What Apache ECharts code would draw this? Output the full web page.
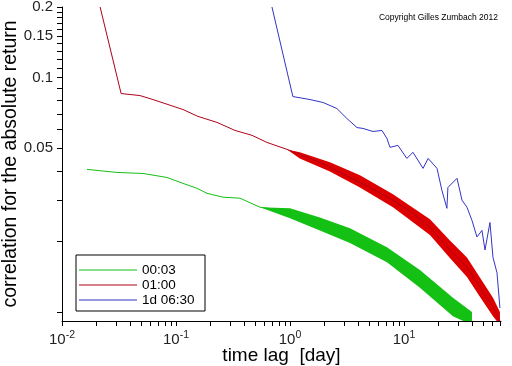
<!DOCTYPE html>
<html><head><meta charset="utf-8">
<script src="https://cdn.jsdelivr.net/npm/echarts@6/dist/echarts.min.js"></script>
<style>html,body{margin:0;padding:0;background:#fff}#c{width:512px;height:366px}</style>
</head><body><div id="c"></div>
<script>
// ---- data ----
const seriesNames = ['00:03', '01:00', '1d 06:30'];

const greenX = [0.01656,0.0303,0.0514,0.0834,0.115,0.153,0.187,0.258,0.364,0.545,0.769,1.0,1.59,2.11,3.16,4.73,7.09,9.80,13.8,19.5,26.9,35.7,39.5];
const greenY = [0.0406,0.0394,0.0390,0.0375,0.0354,0.0337,0.0321,0.0309,0.0306,0.0280,0.0274,0.0264,0.0239,0.0230,0.0209,0.0189,0.0175,0.0155,0.0137,0.0120,0.0105,0.00942,0.00916];

const redX = [0.0216,0.033,0.0483,0.0628,0.115,0.156,0.229,0.330,0.465,0.628,0.942,1.83,3.36,5.03,8.01,12.0,16.9,25.3,35.7,46.5,60.4,69.5];
const redY = [0.2,0.0855,0.0838,0.0806,0.0731,0.0683,0.0644,0.0595,0.0567,0.0529,0.0494,0.0435,0.0375,0.0340,0.0300,0.0264,0.0230,0.0184,0.0155,0.0128,0.0105,0.00916];

const blueX = [0.695,1.06,1.50,1.95,2.58,3.16,3.87,4.37,5.35,6.41,7.09,7.54,8.85,10.6,12.0,14.7,16.3,19.5,21.5,23.8,24.3,29.2,32.3,35.7,39.5,43.7,48.3,51.4,56.8,60.4,65.5,69.5];
const blueY = [0.2,0.0830,0.0806,0.0783,0.0738,0.0669,0.0612,0.0607,0.0589,0.0595,0.0550,0.0504,0.0514,0.0452,0.0480,0.0410,0.0452,0.0410,0.0331,0.0277,0.0340,0.0372,0.0300,0.0280,0.0246,0.0209,0.0223,0.0184,0.0241,0.0171,0.0147,0.0104];

// noise envelopes (upper / lower edge of the jagged band)
const redBandX  = [0.942,1.22,2.24,4.11,8.01,16.9,25.3,35.7,46.5,60.4,69.5];
const redBandHi = [0.0494,0.0480,0.0435,0.0383,0.0318,0.0249,0.0202,0.0171,0.0140,0.0115,0.0100];
const redBandLo = [0.0494,0.0452,0.0398,0.0340,0.0280,0.0213,0.0170,0.0141,0.0116,0.0096,0.0088];

const greenBandX  = [0.545,1.0,1.83,3.36,7.09,13.8,26.9,39.5];
const greenBandHi = [0.0280,0.0277,0.0253,0.0228,0.0189,0.0151,0.0115,0.0100];
const greenBandLo = [0.0280,0.0251,0.0223,0.0197,0.0163,0.0127,0.0096,0.0088];

const xMin = 0.01, xMax = 71, yMin = 0.00916, yMax = 0.2;
const xLabelValues = [0.01, 0.1, 1, 10];
const yLabelValues = [0.05, 0.1, 0.15, 0.2];
const xTickValues = [];
[-2,-1,0,1].forEach(p => { for (let k = 1; k <= 9; k++) { const v = k * Math.pow(10, p); if (v <= xMax) xTickValues.push(+v.toPrecision(3)); } });
const yTickValues = [];
for (let k = 1; k <= 20; k++) yTickValues.push(+(k / 100).toFixed(2));

// ---- chart ----
const colors = {green: '#14c014', red: '#b00018', redBand: '#dd0000', blue: '#3434c4'};
const zip = (xs, ys) => xs.map((x, i) => [x, ys[i]]);

function bandSeries(name, xs, hi, lo, color) {
  return {
    type: 'custom', name: name, clip: true, silent: true, z: 2,
    data: xs.map((x, i) => [x, hi[i], lo[i]]),
    encode: {x: 0, y: [1, 2]},
    renderItem: function (params, api) {
      if (params.dataIndex !== 0) return null;
      const pts = [];
      for (let i = 0; i < xs.length; i++) pts.push(api.coord([xs[i], hi[i]]));
      for (let i = xs.length - 1; i >= 0; i--) pts.push(api.coord([xs[i], lo[i]]));
      return {type: 'polygon', shape: {points: pts}, style: {fill: color}};
    }
  };
}

const font = '"Liberation Sans", Arial, sans-serif';
const chart = echarts.init(document.getElementById('c'), null, {renderer: 'canvas'});
chart.setOption({
  animation: false,
  backgroundColor: '#fff',
  textStyle: {fontFamily: font},
  title: {
    text: 'Copyright Gilles Zumbach 2012', right: 9, top: 8,
    textStyle: {fontSize: 8.5, fontWeight: 'normal', color: '#000', fontFamily: font}
  },
  grid: {left: 62, right: 11, top: 7, bottom: 45, outerBoundsMode: 'none', containLabel: false},
  legend: {
    data: seriesNames, orient: 'vertical', left: 76, top: 255,
    padding: [8, 5, 4, 3], itemGap: 1, itemWidth: 58, itemHeight: 1.2, icon: 'rect',
    borderColor: '#000', borderWidth: 1,
    selectedMode: false,
    textStyle: {fontSize: 13.5, color: '#000', width: 58, align: 'right', lineHeight: 14, fontFamily: font}
  },
  xAxis: [{
    type: 'log', logBase: 10, min: xMin, max: xMax, position: 'bottom',
    name: 'time lag  [day]', nameLocation: 'middle', nameGap: 25, nameMoveOverlap: false,
    nameTextStyle: {fontSize: 19, color: '#000', fontFamily: font},
    axisLine: {onZero: false, lineStyle: {color: '#000', width: 1}},
    axisTick: {show: false},
    minorTick: {show: false},
    splitLine: {show: false},
    axisLabel: {
      customValues: xLabelValues, margin: 9, color: '#222', fontSize: 15, fontFamily: font,
      formatter: v => '10{s|' + Math.round(Math.log10(v)) + '}',
      rich: {s: {fontSize: 10.5, color: '#222', padding: [0, 0, 9, 0], fontFamily: font}}
    }
  }, {
    // tick marks of the log scale (same extent, in decades)
    type: 'value', min: Math.log10(xMin), max: Math.log10(xMax), position: 'bottom',
    axisLine: {show: false, onZero: false}, splitLine: {show: false}, axisLabel: {show: false},
    axisTick: {show: true, inside: false, length: 5, customValues: xTickValues.map(Math.log10), lineStyle: {color: '#000', width: 1}}
  }],
  yAxis: [{
    type: 'log', logBase: 10, min: yMin, max: yMax, position: 'left',
    name: 'correlation for the absolute return', nameLocation: 'middle', nameGap: 41, nameMoveOverlap: false,
    nameTextStyle: {fontSize: 19.5, color: '#000', fontFamily: font},
    axisLine: {show: true, onZero: false, lineStyle: {color: '#000', width: 1}},
    axisTick: {show: false},
    minorTick: {show: false},
    splitLine: {show: false},
    axisLabel: {
      customValues: yLabelValues, margin: 9, color: '#222', fontSize: 15, fontFamily: font,
      formatter: v => String(Math.round(v * 100) / 100)
    }
  }, {
    type: 'value', min: Math.log10(yMin), max: Math.log10(yMax), position: 'left',
    axisLine: {show: false, onZero: false}, splitLine: {show: false}, axisLabel: {show: false},
    axisTick: {show: true, inside: false, length: 5, customValues: yTickValues.map(Math.log10), lineStyle: {color: '#000', width: 1}}
  }],
  series: [
    bandSeries('band00', greenBandX, greenBandHi, greenBandLo, colors.green),
    bandSeries('band01', redBandX, redBandHi, redBandLo, colors.redBand),
    {name: seriesNames[0], type: 'line', data: zip(greenX, greenY), showSymbol: false, symbol: 'none',
     lineStyle: {color: colors.green, width: 1}, itemStyle: {color: colors.green}, z: 3},
    {name: seriesNames[1], type: 'line', data: zip(redX, redY), showSymbol: false, symbol: 'none',
     lineStyle: {color: colors.red, width: 1}, itemStyle: {color: colors.red}, z: 3},
    {name: seriesNames[2], type: 'line', data: zip(blueX, blueY), showSymbol: false, symbol: 'none',
     lineStyle: {color: colors.blue, width: 1}, itemStyle: {color: colors.blue}, z: 3}
  ]
});
</script>
</body></html>
